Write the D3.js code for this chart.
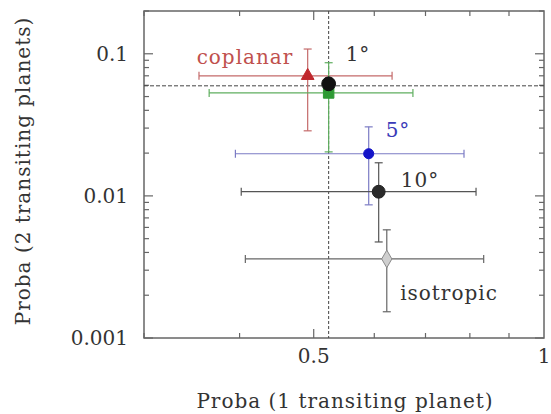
<!DOCTYPE html>
<html>
<head>
<meta charset="utf-8">
<script src="https://cdn.jsdelivr.net/npm/d3@7"></script>
<style>
  body { margin: 0; background: #fff; }
  svg text { font-family: "DejaVu Serif", serif; }
</style>
</head>
<body>
<div id="chart"></div>
<script>
// values (log-log plot)
const labels = ["coplanar", "", "1°", "5°", "10°", "isotropic"];
const shapes = ["triangle", "square", "circle", "circle", "circle", "diamond"];
const px = [0.491, 0.523, 0.523, 0.590, 0.608, 0.623];
const py = [0.070, 0.053, 0.0615, 0.0198, 0.0107, 0.0036];
const xLo = [0.354, 0.365, null, 0.395, 0.402, 0.407];
const xHi = [0.633, 0.674, null, 0.786, 0.815, 0.834];
const yLo = [0.0287, 0.0204, null, 0.00865, 0.00474, 0.00153];
const yHi = [0.108, 0.0865, null, 0.0306, 0.0171, 0.00577];
const refX = 0.523;   // dashed reference lines
const refY = 0.0595;
const xTickLabels = [0.5, 1];
const yTickLabels = [0.1, 0.01, 0.001];

const fills = ["#c0282d", "#2e9a34", "#111", "#1414c8", "#2a2a2a", "#cfcfcf"];
const strokes = ["#c0282d", "#2e9a34", "#111", "#1414c8", "#222", "#8a8a8a"];
const barColors = ["#c46a6a", "#5fae5f", "#333", "#7b7bc4", "#555", "#666"];

const width = 551, height = 414;
const margin = { top: 11, right: 7, bottom: 76, left: 144 };

const svg = d3.select("#chart").append("svg")
    .attr("width", width)
    .attr("height", height);

const x = d3.scaleLog().domain([0.3, 1]).range([margin.left, width - margin.right]);
const y = d3.scaleLog().domain([0.001, 0.2]).range([height - margin.bottom, margin.top]);

const x0 = margin.left, x1 = width - margin.right;
const y0 = height - margin.bottom, y1 = margin.top;
const frameColor = "#666";
const fontSize = 20, spacing = 1;

// -------- minor / major ticks, mirrored on all sides --------
const xMinor = [0.3, 0.4, 0.5, 0.6, 0.7, 0.8, 0.9];
const yMinor = [];
[0.001, 0.01, 0.1].forEach(d => { for (let k = 1; k <= 9; k++) if (d * k <= 0.2) yMinor.push(d * k); });

const ticks = svg.append("g").attr("stroke", frameColor).attr("stroke-width", 1.2);
yMinor.forEach(v => {
    const major = yTickLabels.includes(+v.toPrecision(3));
    const len = major ? 9 : 5;
    ticks.append("line").attr("x1", x0).attr("x2", x0 + len).attr("y1", y(v)).attr("y2", y(v));
    ticks.append("line").attr("x1", x1).attr("x2", x1 - len).attr("y1", y(v)).attr("y2", y(v));
});
xMinor.forEach(v => {
    const len = v === 0.5 ? 9 : 5;
    ticks.append("line").attr("x1", x(v)).attr("x2", x(v)).attr("y1", y0).attr("y2", y0 - len);
    ticks.append("line").attr("x1", x(v)).attr("x2", x(v)).attr("y1", y1).attr("y2", y1 + len);
});

// -------- frame --------
svg.append("rect")
    .attr("x", x0).attr("y", y1)
    .attr("width", x1 - x0).attr("height", y0 - y1)
    .attr("fill", "none").attr("stroke", frameColor).attr("stroke-width", 1.5);

// -------- dashed reference lines --------
svg.append("line")
    .attr("x1", x(refX)).attr("x2", x(refX)).attr("y1", y1).attr("y2", y0)
    .attr("stroke", "#444").attr("stroke-width", 1).attr("stroke-dasharray", "3,2");
svg.append("line")
    .attr("x1", x0).attr("x2", x1).attr("y1", y(refY)).attr("y2", y(refY))
    .attr("stroke", "#444").attr("stroke-width", 1).attr("stroke-dasharray", "4,2");

// -------- tick labels --------
svg.append("g").selectAll("text")
    .data(yTickLabels)
    .join("text")
    .attr("x", x0 - 16)
    .attr("y", d => y(d))
    .attr("dy", "0.35em")
    .attr("text-anchor", "end")
    .attr("font-size", fontSize)
    .attr("fill", "#333")
    .text(d => d);

svg.append("g").selectAll("text")
    .data(xTickLabels)
    .join("text")
    .attr("x", d => x(d))
    .attr("y", 363)
    .attr("text-anchor", "middle")
    .attr("font-size", fontSize)
    .attr("fill", "#333")
    .text(d => d);

// -------- axis titles --------
svg.append("text")
    .attr("x", 345)
    .attr("y", 408)
    .attr("text-anchor", "middle")
    .attr("font-size", fontSize)
    .attr("letter-spacing", spacing)
    .attr("fill", "#333")
    .text("Proba (1 transiting planet)");

svg.append("text")
    .attr("transform", `translate(30,${171}) rotate(-90)`)
    .attr("text-anchor", "middle")
    .attr("font-size", fontSize)
    .attr("letter-spacing", spacing)
    .attr("fill", "#333")
    .text("Proba (2 transiting planets)");

// -------- error bars --------
const idx = d3.range(px.length);
const cap = 4;
const bars = svg.append("g").attr("stroke-width", 1.2);
idx.forEach(i => {
    const c = barColors[i];
    if (xLo[i] != null) {
        bars.append("line").attr("x1", x(xLo[i])).attr("x2", x(xHi[i])).attr("y1", y(py[i])).attr("y2", y(py[i])).attr("stroke", c);
        [xLo[i], xHi[i]].forEach(v => bars.append("line")
            .attr("x1", x(v)).attr("x2", x(v)).attr("y1", y(py[i]) - cap).attr("y2", y(py[i]) + cap).attr("stroke", c));
    }
    if (yLo[i] != null) {
        bars.append("line").attr("x1", x(px[i])).attr("x2", x(px[i])).attr("y1", y(yLo[i])).attr("y2", y(yHi[i])).attr("stroke", c);
        [yLo[i], yHi[i]].forEach(v => bars.append("line")
            .attr("x1", x(px[i]) - cap).attr("x2", x(px[i]) + cap).attr("y1", y(v)).attr("y2", y(v)).attr("stroke", c));
    }
});

// -------- markers --------
const symbolType = {
    triangle: d3.symbolTriangle,
    square: d3.symbolSquare,
    circle: d3.symbolCircle,
    diamond: d3.symbolDiamond
};
const symbolSize = [70, 110, 150, 80, 130, 90];
svg.append("g").selectAll("path")
    .data(idx)
    .join("path")
    .attr("transform", i => `translate(${x(px[i])},${y(py[i])})`)
    .attr("d", i => d3.symbol(symbolType[shapes[i]], symbolSize[i])())
    .attr("fill", i => fills[i])
    .attr("stroke", i => strokes[i])
    .attr("stroke-width", 1);

// -------- point labels --------
const labelPos = [[245, 64, "#c0504d"], null, [358, 61, "#333"], [398, 137, "#3a3ab8"], [420, 187, "#333"], [449, 300, "#333"]];
idx.forEach(i => {
    if (!labels[i]) return;
    svg.append("text")
        .attr("x", labelPos[i][0])
        .attr("y", labelPos[i][1])
        .attr("text-anchor", "middle")
        .attr("font-size", fontSize)
        .attr("letter-spacing", spacing)
        .attr("fill", labelPos[i][2])
        .text(labels[i]);
});
</script>
</body>
</html>
